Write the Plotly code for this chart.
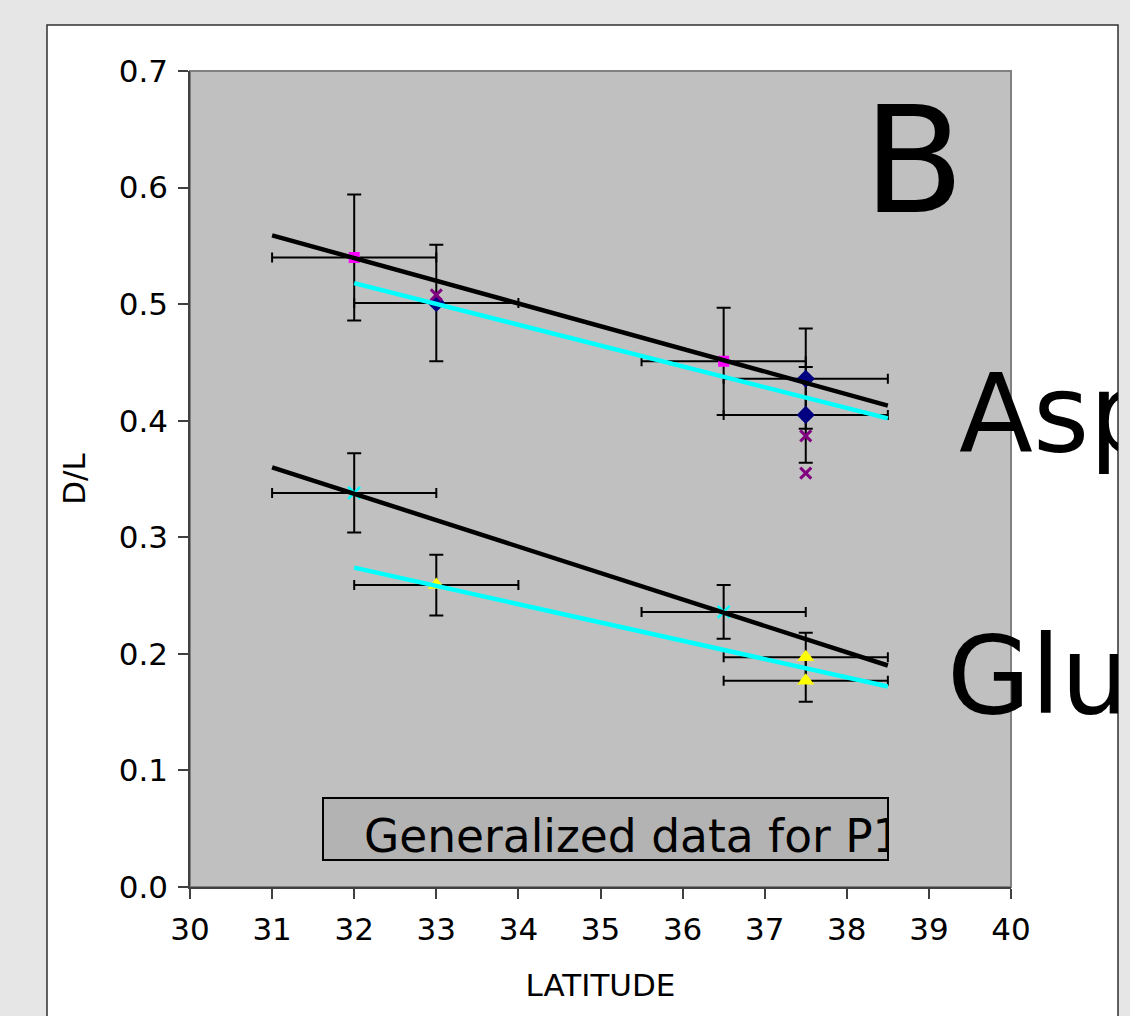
import plotly.graph_objects as go

# ---------------- data ----------------
x_tick_vals = list(range(30, 41))
y_tick_vals = [0.0, 0.1, 0.2, 0.3, 0.4, 0.5, 0.6, 0.7]

# Aspartic acid (upper group)
asp_pink_lat = [32, 36.5]
asp_pink_dl = [0.540, 0.451]
asp_pink_dl_err = [0.054, 0.046]
asp_pink_lat_err = [1, 1]

asp_navy_lat = [33, 37.5, 37.5]
asp_navy_dl = [0.501, 0.436, 0.405]
asp_navy_dl_err = [0.050, 0.043, 0.041]
asp_navy_lat_err = [1, 1, 1]

asp_purple_lat = [33, 37.5, 37.5]
asp_purple_dl = [0.508, 0.387, 0.355]

# Glutamic acid (lower group)
glu_cyan_lat = [32, 36.5]
glu_cyan_dl = [0.338, 0.236]
glu_cyan_dl_err = [0.034, 0.023]
glu_cyan_lat_err = [1, 1]

glu_yellow_lat = [33, 37.5, 37.5]
glu_yellow_dl = [0.259, 0.197, 0.177]
glu_yellow_dl_err = [0.026, 0.021, 0.018]
glu_yellow_lat_err = [1, 1, 1]

# linear trend lines (end points)
asp_all_fit_lat = [31, 38.5]
asp_all_fit_dl = [0.559, 0.413]
asp_fit_lat = [32, 38.5]
asp_fit_dl = [0.518, 0.402]
glu_all_fit_lat = [31, 38.5]
glu_all_fit_dl = [0.360, 0.190]
glu_fit_lat = [32, 38.5]
glu_fit_dl = [0.274, 0.172]

big_labels = ["B", "Asp", "Glu"]
box_label = "Generalized data for P1"

# ---------------- figure ----------------
W, H = 1130, 1016
FONT = "DejaVu Sans, Liberation Sans, Arial, sans-serif"


def px(x):
    return x / W


def py(y):
    return 1 - y / H


fig = go.Figure()


def err(vals, width):
    return dict(type="data", array=vals, visible=True, color="black", thickness=2, width=width)


def pts(lat, dl, color, symbol, size, ex=None, ey=None, line=None):
    kw = dict(x=lat, y=dl, mode="markers", showlegend=False, cliponaxis=False,
              marker=dict(color=color, symbol=symbol, size=size,
                          line=line or dict(width=0, color=color)))
    if ex is not None:
        kw["error_x"] = err(ex, 5)
    if ey is not None:
        kw["error_y"] = err(ey, 7)
    fig.add_trace(go.Scatter(**kw))


pts(asp_pink_lat, asp_pink_dl, "#ff00ff", "square", 11, asp_pink_lat_err, asp_pink_dl_err)
pts(asp_navy_lat, asp_navy_dl, "#000080", "diamond", 14, asp_navy_lat_err, asp_navy_dl_err)
pts(asp_purple_lat, asp_purple_dl, "#800080", "x-thin", 11, line=dict(width=3, color="#800080"))
pts(glu_cyan_lat, glu_cyan_dl, "#00ffff", "x-thin", 12, glu_cyan_lat_err, glu_cyan_dl_err,
    line=dict(width=2.5, color="#00ffff"))
pts(glu_yellow_lat, glu_yellow_dl, "#ffff00", "triangle-up", 15, glu_yellow_lat_err, glu_yellow_dl_err)

for lat, dl, col in [
    (asp_all_fit_lat, asp_all_fit_dl, "black"),
    (asp_fit_lat, asp_fit_dl, "#00ffff"),
    (glu_all_fit_lat, glu_all_fit_dl, "black"),
    (glu_fit_lat, glu_fit_dl, "#00ffff"),
]:
    fig.add_trace(go.Scatter(x=lat, y=dl, mode="lines", showlegend=False,
                             line=dict(color=col, width=4.5)))

axis_common = dict(showgrid=False, zeroline=False, showline=True, linecolor="#404040",
                   linewidth=1.5, ticks="outside", ticklen=10, tickwidth=1.5,
                   tickcolor="#404040", tickfont=dict(family=FONT, size=31, color="black"))

fig.update_layout(
    width=W, height=H,
    margin=dict(l=0, r=0, t=0, b=0, pad=0),
    paper_bgcolor="white",
    plot_bgcolor="#c0c0c0",
    font=dict(family=FONT, color="black"),
    xaxis=dict(domain=[px(190), px(1011)], range=[30, 40], tickvals=x_tick_vals,
               ticklabelstandoff=4,
               title=dict(text="LATITUDE", font=dict(family=FONT, size=31), standoff=28),
               automargin=False, **axis_common),
    yaxis=dict(domain=[py(887), py(71)], range=[0, 0.7], tickvals=y_tick_vals,
               tickformat=".1f", ticklabelstandoff=4,
               title=dict(text="D/L", font=dict(family=FONT, size=31), standoff=24),
               automargin=False, **axis_common),
    shapes=[
        # plot-area frame (top/right gray edges)
        dict(type="rect", xref="x domain", yref="y domain", x0=0, x1=1, y0=0, y1=1,
             line=dict(color="#808080", width=2), layer="below"),
        # "legend" box
        dict(type="rect", xref="paper", yref="paper", x0=px(323), x1=px(888),
             y0=py(860), y1=py(798), fillcolor="#b3b3b3",
             line=dict(color="black", width=2), layer="above"),
        # outer gray margins
        dict(type="rect", xref="paper", yref="paper", x0=0, x1=px(47), y0=0, y1=1,
             fillcolor="#e6e6e6", line=dict(width=0), layer="above"),
        dict(type="rect", xref="paper", yref="paper", x0=0, x1=1, y0=py(25), y1=1,
             fillcolor="#e6e6e6", line=dict(width=0), layer="above"),
        dict(type="rect", xref="paper", yref="paper", x0=px(1118), x1=1, y0=0, y1=1,
             fillcolor="#e6e6e6", line=dict(width=0), layer="above"),
        # chart-area border
        dict(type="rect", xref="paper", yref="paper", x0=px(47), x1=px(1118),
             y0=py(1030), y1=py(25), line=dict(color="#303030", width=1.5), layer="above"),
    ],
    annotations=[
        dict(text=big_labels[0], xref="paper", yref="paper", x=px(914), y=py(161),
             xanchor="center", yanchor="middle", showarrow=False,
             font=dict(family=FONT, size=148, color="black")),
        dict(text=big_labels[1], xref="paper", yref="paper", x=px(959), y=py(413),
             xanchor="left", yanchor="middle", showarrow=False, width=159, height=160,
             align="left", borderpad=0, borderwidth=0,
             font=dict(family=FONT, size=108, color="black")),
        dict(text=big_labels[2], xref="paper", yref="paper", x=px(947), y=py(675),
             xanchor="left", yanchor="middle", showarrow=False, width=171, height=160,
             align="left", borderpad=0, borderwidth=0,
             font=dict(family=FONT, size=108, color="black")),
        dict(text=box_label, xref="paper", yref="paper", x=px(364), y=py(836),
             xanchor="left", yanchor="middle", showarrow=False, width=523, height=56,
             align="left", borderpad=0, borderwidth=0,
             font=dict(family=FONT, size=45.5, color="black")),
    ],
)

fig.write_html(
    "out.html",
    config={"displayModeBar": False},
    post_script="document.body.style.margin='0';document.body.style.background='#e6e6e6';",
)
